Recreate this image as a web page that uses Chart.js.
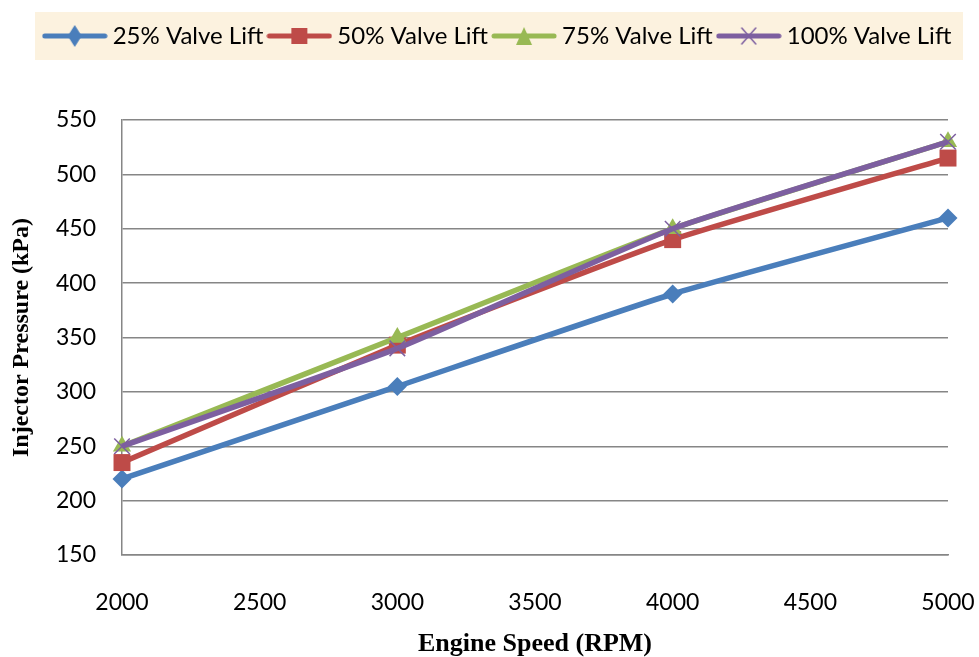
<!DOCTYPE html>
<html>
<head>
<meta charset="utf-8">
<script src="https://cdn.jsdelivr.net/npm/chart.js@4.4.1/dist/chart.umd.min.js"></script>
<style>
  html, body { margin: 0; padding: 0; background: #fff; }
  #wrap { width: 979px; height: 657px; position: relative; }
</style>
</head>
<body>
<div id="wrap"><canvas id="myLineChart"></canvas></div>
<script>
const speeds = [2000, 3000, 4000, 5000];
const lift25 = [220, 305, 390, 460];
const lift50 = [235, 343, 440, 515];
const lift75 = [250, 350, 450, 530];
const lift100 = [250, 340, 450, 530];
const seriesNames = ["25% Valve Lift", "50% Valve Lift", "75% Valve Lift", "100% Valve Lift"];
const colors = ["#4A7EBB", "#BE4B48", "#98B954", "#7D5FA0"];

const tickFont = { family: "Lato", size: 23 };
const legendFont = { family: "Lato", size: 24 };

// legend swatch: thick line with the marker in the middle
function swatch(color, style) {
	const c = document.createElement("canvas");
	c.width = 66;
	c.height = 26;
	const ctx = c.getContext("2d");
	ctx.strokeStyle = color;
	ctx.lineWidth = 5;
	ctx.lineCap = "round";
	ctx.beginPath();
	ctx.moveTo(3, 13);
	ctx.lineTo(63, 13);
	ctx.stroke();
	ctx.fillStyle = color;
	ctx.beginPath();
	if (style === "rectRot") {
		ctx.moveTo(33, 2); ctx.lineTo(40, 13); ctx.lineTo(33, 24); ctx.lineTo(26, 13);
		ctx.fill();
	} else if (style === "rect") {
		ctx.rect(25, 5, 16, 16);
		ctx.fill();
	} else if (style === "triangle") {
		ctx.moveTo(33, 4); ctx.lineTo(41, 22); ctx.lineTo(25, 22);
		ctx.fill();
	} else {
		ctx.lineWidth = 1.5;
		ctx.moveTo(26, 5); ctx.lineTo(40, 21);
		ctx.moveTo(40, 5); ctx.lineTo(26, 21);
		ctx.stroke();
	}
	return c;
}

const styles = ["rectRot", "rect", "triangle", "crossRot"];
const radii = [9.5, 12, 10.5, 11];
const values = [lift25, lift50, lift75, lift100];

const data = {
	datasets: values.map((v, i) => ({
		label: seriesNames[i],
		data: speeds.map((s, j) => ({ x: s, y: v[j] })),
		borderColor: colors[i],
		backgroundColor: colors[i],
		borderWidth: 5.5,
		pointStyle: styles[i],
		pointRadius: radii[i],
		pointBorderWidth: styles[i] === "crossRot" ? 1.5 : 0,
		pointBorderColor: colors[i],
		pointBackgroundColor: colors[i],
		tension: 0.15,
		clip: false,
		order: 4 - i,
		legendStyle: swatch(colors[i], styles[i]),
	})),
};

const legendBg = {
	id: "legendBg",
	beforeInit(chart) {
		const origFit = chart.legend.fit;
		chart.legend.fit = function () {
			origFit.call(this);
			this.height = 106;
		};
	},
	beforeDraw(chart) {
		const ctx = chart.ctx;
		ctx.save();
		ctx.fillStyle = "#FCF2DF";
		ctx.fillRect(35, 12, 928, 48);
		ctx.restore();
	},
};

const config = {
	type: "line",
	data: data,
	options: {
		responsive: true,
		maintainAspectRatio: false,
		animation: false,
		layout: { padding: { left: 31, right: 10, top: 14, bottom: 0 } },
		plugins: {
			tooltip: { enabled: false },
			legend: {
				position: "top",
				labels: {
					usePointStyle: true,
					pointStyleWidth: 52,
					padding: 10,
					color: "#000",
					font: legendFont,
					generateLabels: function (chart) {
						return chart.data.datasets.map((ds, i) => ({
							text: ds.label,
							pointStyle: ds.legendStyle,
							fillStyle: ds.borderColor,
							strokeStyle: ds.borderColor,
							lineWidth: 0,
							datasetIndex: i,
							hidden: false,
						}));
					},
				},
			},
		},
		scales: {
			x: {
				type: "linear",
				min: 2000,
				max: 5000,
				afterFit(scale) {
					scale.height = 102;
					scale.paddingLeft = 0;
					scale.paddingRight = 31;
				},
				ticks: {
					stepSize: 500,
					color: "#000",
					font: tickFont,
					padding: 34,
					callback: (v) => String(v),
				},
				grid: { display: false, drawTicks: false },
				border: { display: true, color: "#868686", width: 1.5 },
				title: {
					display: true,
					text: "Engine Speed (RPM)",
					color: "#000",
					font: { family: "Liberation Serif", size: 26, weight: "bold", lineHeight: 1 },
					padding: { top: 0, bottom: 0 },
				},
			},
			y: {
				min: 150,
				max: 550,
				afterFit(scale) { scale.width = 91; },
				ticks: { stepSize: 50, color: "#000", font: tickFont, padding: 26 },
				grid: { color: "#868686", lineWidth: 1.5, drawTicks: false },
				border: { display: true, color: "#868686", width: 1.5 },
				title: {
					display: true,
					text: "Injector Pressure (kPa)",
					color: "#000",
					font: { family: "Liberation Serif", size: 24, weight: "bold", lineHeight: 1 },
					padding: { top: -21, bottom: 0 },
				},
			},
		},
	},
	plugins: [legendBg],
};

const myLineChart = new Chart(document.getElementById("myLineChart"), config);
</script>
</body>
</html>
